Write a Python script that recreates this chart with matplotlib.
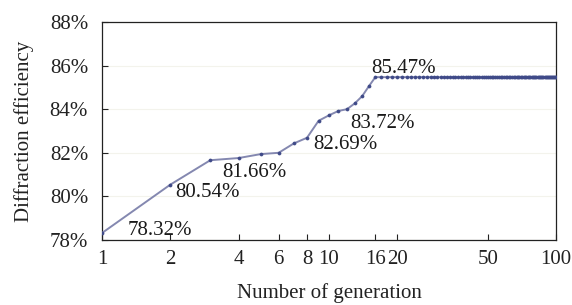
import matplotlib
matplotlib.use("Agg")
import matplotlib.pyplot as plt
from matplotlib.ticker import FixedLocator, FixedFormatter, NullLocator, FuncFormatter

plt.rcParams['font.family'] = ['Liberation Serif', 'DejaVu Serif']

# Data
generations = list(range(1, 101))
efficiency_rise = [78.32, 80.54, 81.66, 81.76, 81.94, 82.00, 82.43, 82.69,
                   83.47, 83.72, 83.92, 84.00, 84.27, 84.60, 85.06]
efficiency_plateau = [85.47] * 85
efficiency = efficiency_rise + efficiency_plateau

label_gens = [1, 2, 3, 8, 10, 16]
label_texts = ["78.32%", "80.54%", "81.66%", "82.69%", "83.72%", "85.47%"]
label_offsets_px = [(26, 3), (5, -8), (12, -12), (6, -7), (21, -8), (-4, 9)]

x_ticks = [1, 2, 4, 6, 8, 10, 16, 20, 50, 100]
x_ticklabels = ["1", "2", "4", "6", "8", "10", "16", "20", "50", "100"]
y_ticks = [78, 80, 82, 84, 86, 88]

fig = plt.figure(figsize=(5.72, 3.05), dpi=100)
ax = fig.add_axes([102/572, 1-240/305, (556-102)/572, (240-22)/305])

ax.plot(generations, efficiency, color='#8488b0', lw=1.4,
        marker='o', markersize=2.2, markerfacecolor='#3f4a88',
        markeredgecolor='#3f4a88', markeredgewidth=0.5, zorder=3)

for g, t, (dx, dy) in zip(label_gens, label_texts, label_offsets_px):
    ax.annotate(t, (g, efficiency[generations.index(g)]),
                xytext=(dx*0.72, dy*0.72), textcoords='offset points',
                ha='left', va='center', fontsize=15, color='#1a1a1a', zorder=4)

ax.set_xscale('log')
ax.set_xlim(1, 100)
ax.set_ylim(78, 88)
ax.xaxis.set_major_locator(FixedLocator(x_ticks))
ax.xaxis.set_major_formatter(FixedFormatter(x_ticklabels))
ax.xaxis.set_minor_locator(NullLocator())
ax.set_yticks(y_ticks)
ax.yaxis.set_major_formatter(FuncFormatter(lambda v, p: f"{v:.0f}%"))

ax.tick_params(axis='both', direction='in', labelsize=15, colors='#222222',
               length=4, width=0.8)
ax.tick_params(axis='x', pad=7)
ax.tick_params(axis='y', pad=10)

ax.grid(axis='y', color='#f3f3ec', lw=0.8)
ax.set_axisbelow(True)
for s in ax.spines.values():
    s.set_color('#222222')
    s.set_linewidth(0.9)

ax.set_xlabel("Number of generation", fontsize=15, color='#222222', labelpad=10)
ax.set_ylabel("Diffraction efficiency", fontsize=15, color='#222222', labelpad=11)

fig.savefig("out.png", dpi=100)
